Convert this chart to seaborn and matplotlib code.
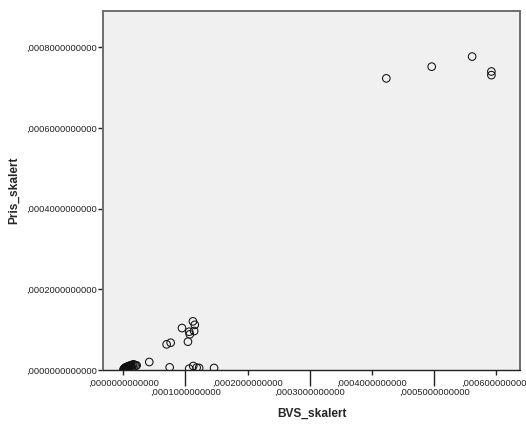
import matplotlib
matplotlib.use("Agg")
import matplotlib.pyplot as plt
import seaborn as sns
import pandas as pd
from matplotlib.ticker import FixedLocator, FuncFormatter

# Scaled BVS vs scaled price, one point per case
bvs_skalert = [
    # dense group near the origin
    0.0000005, 0.0000010, 0.0000015, 0.0000020, 0.0000025, 0.0000030,
    0.0000035, 0.0000040, 0.0000045, 0.0000050, 0.0000055, 0.0000060,
    0.0000065, 0.0000070, 0.0000075, 0.0000080, 0.0000085, 0.0000090,
    0.0000095, 0.0000100, 0.0000110, 0.0000120, 0.0000130, 0.0000145,
    0.0000160, 0.0000180, 0.0000200, 0.0000215,
    # low-price group
    0.0000418, 0.0000746, 0.0001060, 0.0001125, 0.0001180, 0.0001220, 0.0001460,
    # middle group
    0.0000697, 0.0000762, 0.0000944, 0.0001040, 0.0001060, 0.0001070,
    0.0001120, 0.0001140, 0.0001150,
    # upper group
    0.0004230, 0.0004960, 0.0005610, 0.0005920, 0.0005920,
]
pris_skalert = [
    0.0000010, 0.0000025, 0.0000005, 0.0000040, 0.0000015, 0.0000055,
    0.0000030, 0.0000065, 0.0000020, 0.0000045, 0.0000075, 0.0000035,
    0.0000060, 0.0000085, 0.0000050, 0.0000070, 0.0000095, 0.0000060,
    0.0000080, 0.0000105, 0.0000090, 0.0000115, 0.0000100, 0.0000125,
    0.0000140, 0.0000130, 0.0000110, 0.0000115,
    0.0000198, 0.0000066, 0.0000033, 0.0000099, 0.0000058, 0.0000050, 0.0000050,
    0.0000636, 0.0000677, 0.0001040, 0.0000702, 0.0000949, 0.0000884,
    0.0001206, 0.0000966, 0.0001120,
    0.0007230, 0.0007520, 0.0007770, 0.0007400, 0.0007310,
]

x_ticks_short = [0.0, 0.0002, 0.0004, 0.0006]
x_ticks_long = [0.0001, 0.0003, 0.0005]
y_ticks = [0.0, 0.0002, 0.0004, 0.0006, 0.0008]

df = pd.DataFrame({"BVS_skalert": bvs_skalert, "Pris_skalert": pris_skalert})

sns.set_style("white")
plt.rcParams["font.family"] = ["Liberation Sans", "DejaVu Sans"]

fig = plt.figure(figsize=(5.26, 4.25), dpi=100)
ax = fig.add_axes([103 / 526, 55 / 425, 417 / 526, 359 / 425])
ax.set_facecolor("#f0f0f0")

sns.scatterplot(
    data=df, x="BVS_skalert", y="Pris_skalert", ax=ax,
    marker="o", s=30, facecolors="none", edgecolor="#111111", linewidth=0.75,
)

ax.set_xlim(-0.0000326, 0.000638)
ax.set_ylim(0.0, 0.00089)


def comma_fmt(v, pos=None):
    s = f"{abs(v):.13f}"
    return s[1:].replace(".", ",")


ax.xaxis.set_major_locator(FixedLocator(x_ticks_short))
ax.xaxis.set_minor_locator(FixedLocator(x_ticks_long))
ax.xaxis.set_major_formatter(FuncFormatter(comma_fmt))
ax.xaxis.set_minor_formatter(FuncFormatter(comma_fmt))
ax.yaxis.set_major_locator(FixedLocator(y_ticks))
ax.yaxis.set_major_formatter(FuncFormatter(comma_fmt))

ax.tick_params(axis="x", which="major", length=3.6, width=1.0, pad=2.5,
               labelsize=6.7, colors="#222222", direction="out", bottom=True)
ax.tick_params(axis="x", which="minor", length=11.5, width=1.0, pad=1.0,
               labelsize=6.7, colors="#222222", direction="out", bottom=True)
ax.tick_params(axis="y", which="major", length=3.6, width=1.0, pad=1.0,
               labelsize=6.7, colors="#222222", direction="out", left=True)

for side, spine in ax.spines.items():
    spine.set_visible(True)
    spine.set_color("#6e6e6e")
    spine.set_linewidth(1.4)
ax.spines["bottom"].set_color("#222222")
ax.spines["bottom"].set_linewidth(1.0)

ax.set_xlabel("BVS_skalert", fontsize=8.6, fontweight="bold", labelpad=8)
ax.set_ylabel("Pris_skalert", fontsize=8.6, fontweight="bold", labelpad=4)

fig.savefig("out.png", dpi=100, facecolor="white")
